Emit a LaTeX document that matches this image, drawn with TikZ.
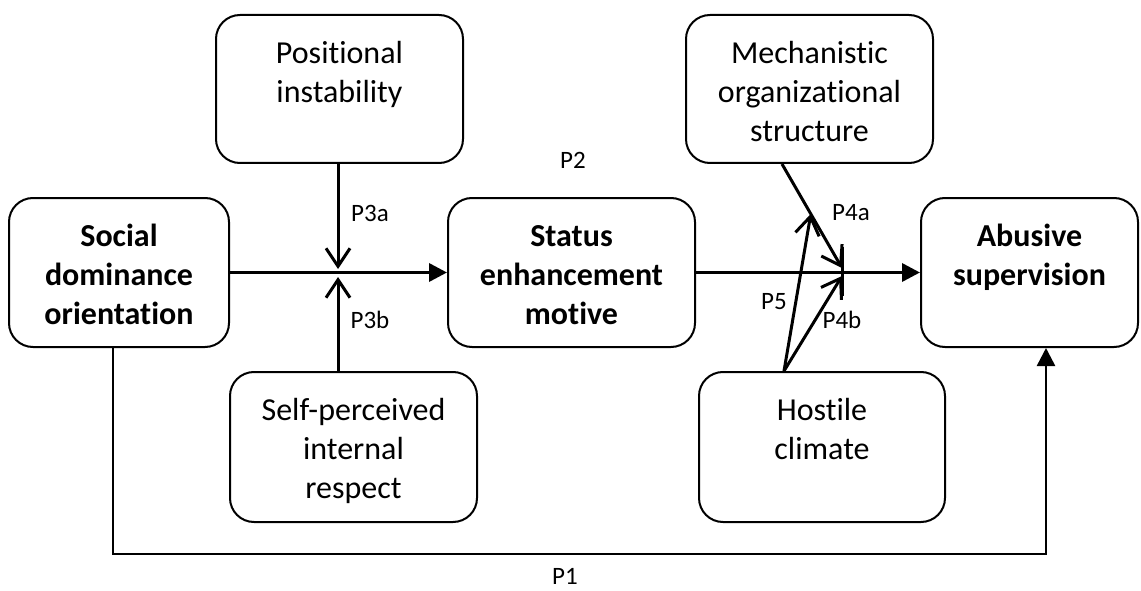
\documentclass[tikz,border=0pt]{standalone}
\usepackage{fontspec}
\setmainfont{Carlito}[Ligatures={NoCommon}]
\usetikzlibrary{arrows.meta,calc}
\tikzset{
 box/.style={draw, line width=2pt, rounded corners=24pt, inner sep=0pt},
 txt/.style={align=center, anchor=north, inner sep=0pt, font=\fontsize{32}{39}\selectfont},
 lab/.style={font=\fontsize{25}{30}\selectfont, inner sep=0pt},
 mainarrow/.style={line width=3.5pt, -{Triangle[length=18pt,width=18pt]}},
 modarrow/.style={line width=3pt, -{Straight Barb[length=18pt,width=24pt]}},
 directarrow/.style={line width=2.5pt, -{Triangle[length=18pt,width=18pt]}},
}
\begin{document}
\begin{tikzpicture}[x=1pt,y=-1pt]
\useasboundingbox (0,0) rectangle (1141,591);
% boxes
\node[box, minimum width=220pt, minimum height=149pt] (sdo) at (119,272.5) {};
\node[box, minimum width=247pt, minimum height=148pt] (pos) at (339.5,89) {};
\node[box, minimum width=247pt, minimum height=149pt] (sem) at (571.5,272.5) {};
\node[box, minimum width=217pt, minimum height=149pt] (abs) at (1029.5,272.5) {};
\node[box, minimum width=247pt, minimum height=150pt] (spi) at (353.5,447) {};
\node[box, minimum width=247pt, minimum height=148pt] (mos) at (809.5,89) {};
\node[box, minimum width=246pt, minimum height=150pt] (hos) at (822,447) {};
% texts
\node[txt] (tsdo) at ([yshift=-22pt]sdo.north) {\strut\bfseries Social\\\bfseries dominance\\\bfseries orientation};
\node[txt] (tpos) at ([yshift=-22pt]pos.north) {\strut Positional\\instability};
\node[txt] (tsem) at ([yshift=-22pt]sem.north) {\strut\bfseries Status\\\bfseries enhancement\\\bfseries motive};
\node[txt] (tabs) at ([yshift=-22pt]abs.north) {\strut\bfseries Abusive\\\bfseries supervision};
\node[txt] (tspi) at ([yshift=-22pt]spi.north) {\strut Self-perceived\\internal\\respect};
\node[txt] (tmos) at ([yshift=-22pt]mos.north) {\strut Mechanistic\\organizational\\structure};
\node[txt] (thos) at ([yshift=-22pt]hos.north) {\strut Hostile\\climate};
% coordinates
\coordinate (j1a) at (338,269);
\coordinate (j1b) at (338,277);
\coordinate (j2a) at (842,268);
\coordinate (j2b) at (842,276);
\coordinate (tick1) at (842,247);
\coordinate (tick2) at (842,296);
\coordinate (m4) at ([xshift=-27.5pt]mos.south);
\coordinate (h5) at ([xshift=-38pt]hos.north);
\coordinate (p5end) at ($(m4)!0.48!(j2a)$);
\coordinate (c1) at (113,554);
\coordinate (c2) at (1046,554);
% main arrows
\draw[mainarrow] (sdo.east) -- (sem.west);
\draw[mainarrow] (sem.east) -- (abs.west);
% moderators
\draw[modarrow] (pos.south -| j1a) -- (j1a);
\draw[modarrow] (spi.north -| j1b) -- (j1b);
\draw[modarrow] (m4) -- (j2a);
\draw[modarrow] (h5) -- (j2b);
\draw[modarrow] (h5) -- (p5end);
\draw[line width=3pt] (tick1) -- (tick2);
% direct path
\draw[directarrow] (sdo.south -| c1) -- (c1) -- (c2) -- (abs.south -| c2);
% labels
\node[lab] (lp2) at (573,160) {P2};
\node[lab] (lp1) at (565,576) {P1};
\node[lab] (lp3a) at (370,213) {P3a};
\node[lab] (lp3b) at (370,320) {P3b};
\node[lab] (lp4a) at (851,213) {P4a};
\node[lab] (lp5) at (774,302) {P5};
\node[lab] (lp4b) at (842,320) {P4b};
\end{tikzpicture}
\end{document}
